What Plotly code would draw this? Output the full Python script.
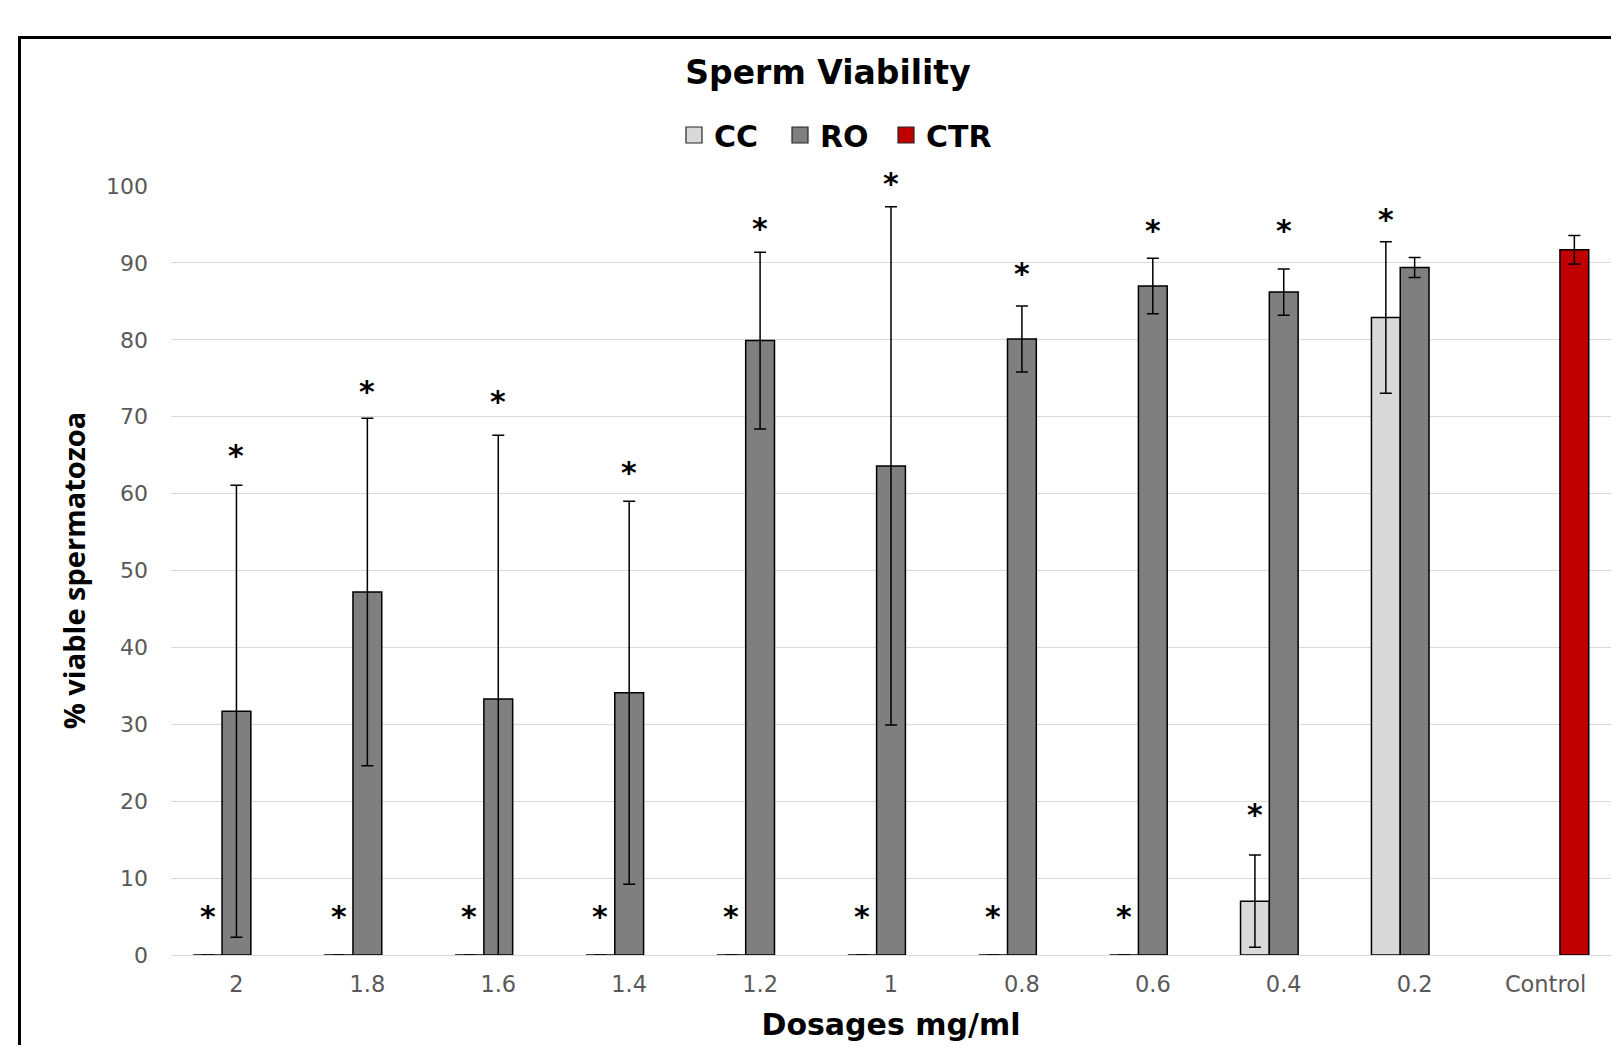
import plotly.graph_objects as go

# ---------------- data ----------------
categories = ["2", "1.8", "1.6", "1.4", "1.2", "1", "0.8", "0.6", "0.4", "0.2", "Control"]

cc_mean = [0, 0, 0, 0, 0, 0, 0, 0, 7.0, 82.9, None]
cc_sd = [None, None, None, None, None, None, None, None, 6.0, 9.85, None]

ro_mean = [31.7, 47.2, 33.3, 34.1, 79.9, 63.6, 80.1, 87.0, 86.2, 89.4, None]
ro_sd = [29.4, 22.6, 34.3, 24.9, 11.5, 33.7, 4.3, 3.6, 3.0, 1.3, None]

ctr_mean = [None, None, None, None, None, None, None, None, None, None, 91.7]
ctr_sd = [None, None, None, None, None, None, None, None, None, None, 1.85]

# significance marks (y level of the asterisk, in axis units)
cc_star_y = [5.4, 5.4, 5.4, 5.4, 5.4, 5.4, 5.4, 5.4, 18.6, 96.0, None]
ro_star_y = [65.4, 73.7, 72.4, 63.1, 94.9, 100.7, 89.0, 94.6, 94.6, None, None]

y_ticks = [0, 10, 20, 30, 40, 50, 60, 70, 80, 90, 100]
Y_RANGE = [0, 100]

# ---------------- layout constants ----------------
OFF = 8                      # default page body margin
W, H = 1619 - 2 * OFF, 1053 - 2 * OFF
ML, MR, MT, MB = 163, 0, 178, 90
BARGAP = 0.34
plot_w = W - ML - MR
plot_h = H - MT - MB
cat_px = plot_w / len(categories)
bar_px = cat_px * (1 - BARGAP) / 3

C_CC = "#d9d9d9"
C_RO = "#7f7f7f"
C_CTR = "#c00000"
EDGE = "#000000"


def sx(px):  # screen x -> paper
    return (px - OFF - ML) / plot_w


def sy(py):  # screen y -> paper
    return (H - MB - (py - OFF)) / plot_h


def y_domain(v):  # y data value -> y-axis domain fraction
    return (v - Y_RANGE[0]) / (Y_RANGE[1] - Y_RANGE[0])


def err(arr):
    return dict(type="data", array=[v if v is not None else float("nan") for v in arr],
                visible=True, color="#000000", thickness=1.5, width=6)


fig = go.Figure()
fig.add_trace(go.Bar(name="CC", x=categories, y=cc_mean, error_y=err(cc_sd),
                     marker=dict(color=C_CC, line=dict(color=EDGE, width=1.5)), showlegend=False))
fig.add_trace(go.Bar(name="RO", x=categories, y=ro_mean, error_y=err(ro_sd),
                     marker=dict(color=C_RO, line=dict(color=EDGE, width=1.5)), showlegend=False))
fig.add_trace(go.Bar(name="CTR", x=categories, y=ctr_mean, error_y=err(ctr_sd),
                     marker=dict(color=C_CTR, line=dict(color=EDGE, width=1.5)), showlegend=False))

# legend entries (larger square swatches)
for nm, col in [("CC", C_CC), ("RO", C_RO), ("CTR", C_CTR)]:
    fig.add_trace(go.Scatter(name=nm, x=[None], y=[None], mode="markers",
                             marker=dict(symbol="square", size=22, color=col,
                                         line=dict(color="#262626", width=1.2)),
                             showlegend=True))

# asterisks (x given as category index, y in y-axis domain units so marks above 100 stay visible)
ann = []
star_font = dict(family="DejaVu Sans", size=30, color="#000000", weight="bold")
for shift, ys in ((-bar_px, cc_star_y), (0, ro_star_y)):
    for i, yv in enumerate(ys):
        if yv is not None:
            ann.append(dict(x=i, y=y_domain(yv), text="*", showarrow=False,
                            xref="x", yref="y domain",
                            xshift=shift, yshift=-3, xanchor="center", yanchor="middle",
                            font=star_font))

# frame border around the chart
shapes = [dict(type="rect", xref="paper", yref="paper",
               x0=sx(19.5), x1=sx(1619 + 30), y0=sy(1053 + 30), y1=sy(37.5),
               line=dict(color="#000000", width=3), fillcolor="rgba(0,0,0,0)", layer="above")]

fig.update_layout(
    width=W, height=H,
    margin=dict(l=ML, r=MR, t=MT, b=MB, autoexpand=False),
    paper_bgcolor="white", plot_bgcolor="white",
    barmode="group", bargap=BARGAP, bargroupgap=0,
    title=dict(text="<b>Sperm Viability</b>", x=(828 - OFF) / W, y=1 - (72 - OFF) / H,
               xref="container", yref="container", xanchor="center", yanchor="middle",
               font=dict(family="DejaVu Sans", size=33, color="#000000")),
    legend=dict(orientation="h", x=sx(674), y=sy(135),
                xanchor="left", yanchor="middle",
                font=dict(family="DejaVu Sans", size=30, color="#000000", weight="bold"),
                itemwidth=30, entrywidth=61, entrywidthmode="pixels",
                bgcolor="rgba(0,0,0,0)"),
    xaxis=dict(type="category", categoryorder="array", categoryarray=categories,
               showgrid=False, showline=False, ticks="", ticklabelstandoff=13,
               tickfont=dict(family="DejaVu Sans", size=22.5, color="#595959"),
               title=dict(text="<b>Dosages mg/ml</b>", standoff=18,
                          font=dict(family="DejaVu Sans", size=30, color="#000000"))),
    yaxis=dict(range=Y_RANGE, tickvals=y_ticks, showgrid=True, gridcolor="#d9d9d9",
               gridwidth=1, zeroline=True, zerolinecolor="#d9d9d9", zerolinewidth=1,
               showline=False, ticks="", ticklabelstandoff=22,
               tickfont=dict(family="DejaVu Sans", size=22, color="#595959"),
               title=dict(text="<b>% viable spermatozoa</b>", standoff=11,
                          font=dict(family="Open Sans", size=29, color="#000000"))),
    annotations=ann,
    shapes=shapes,
)

fig.write_html("out.html")
